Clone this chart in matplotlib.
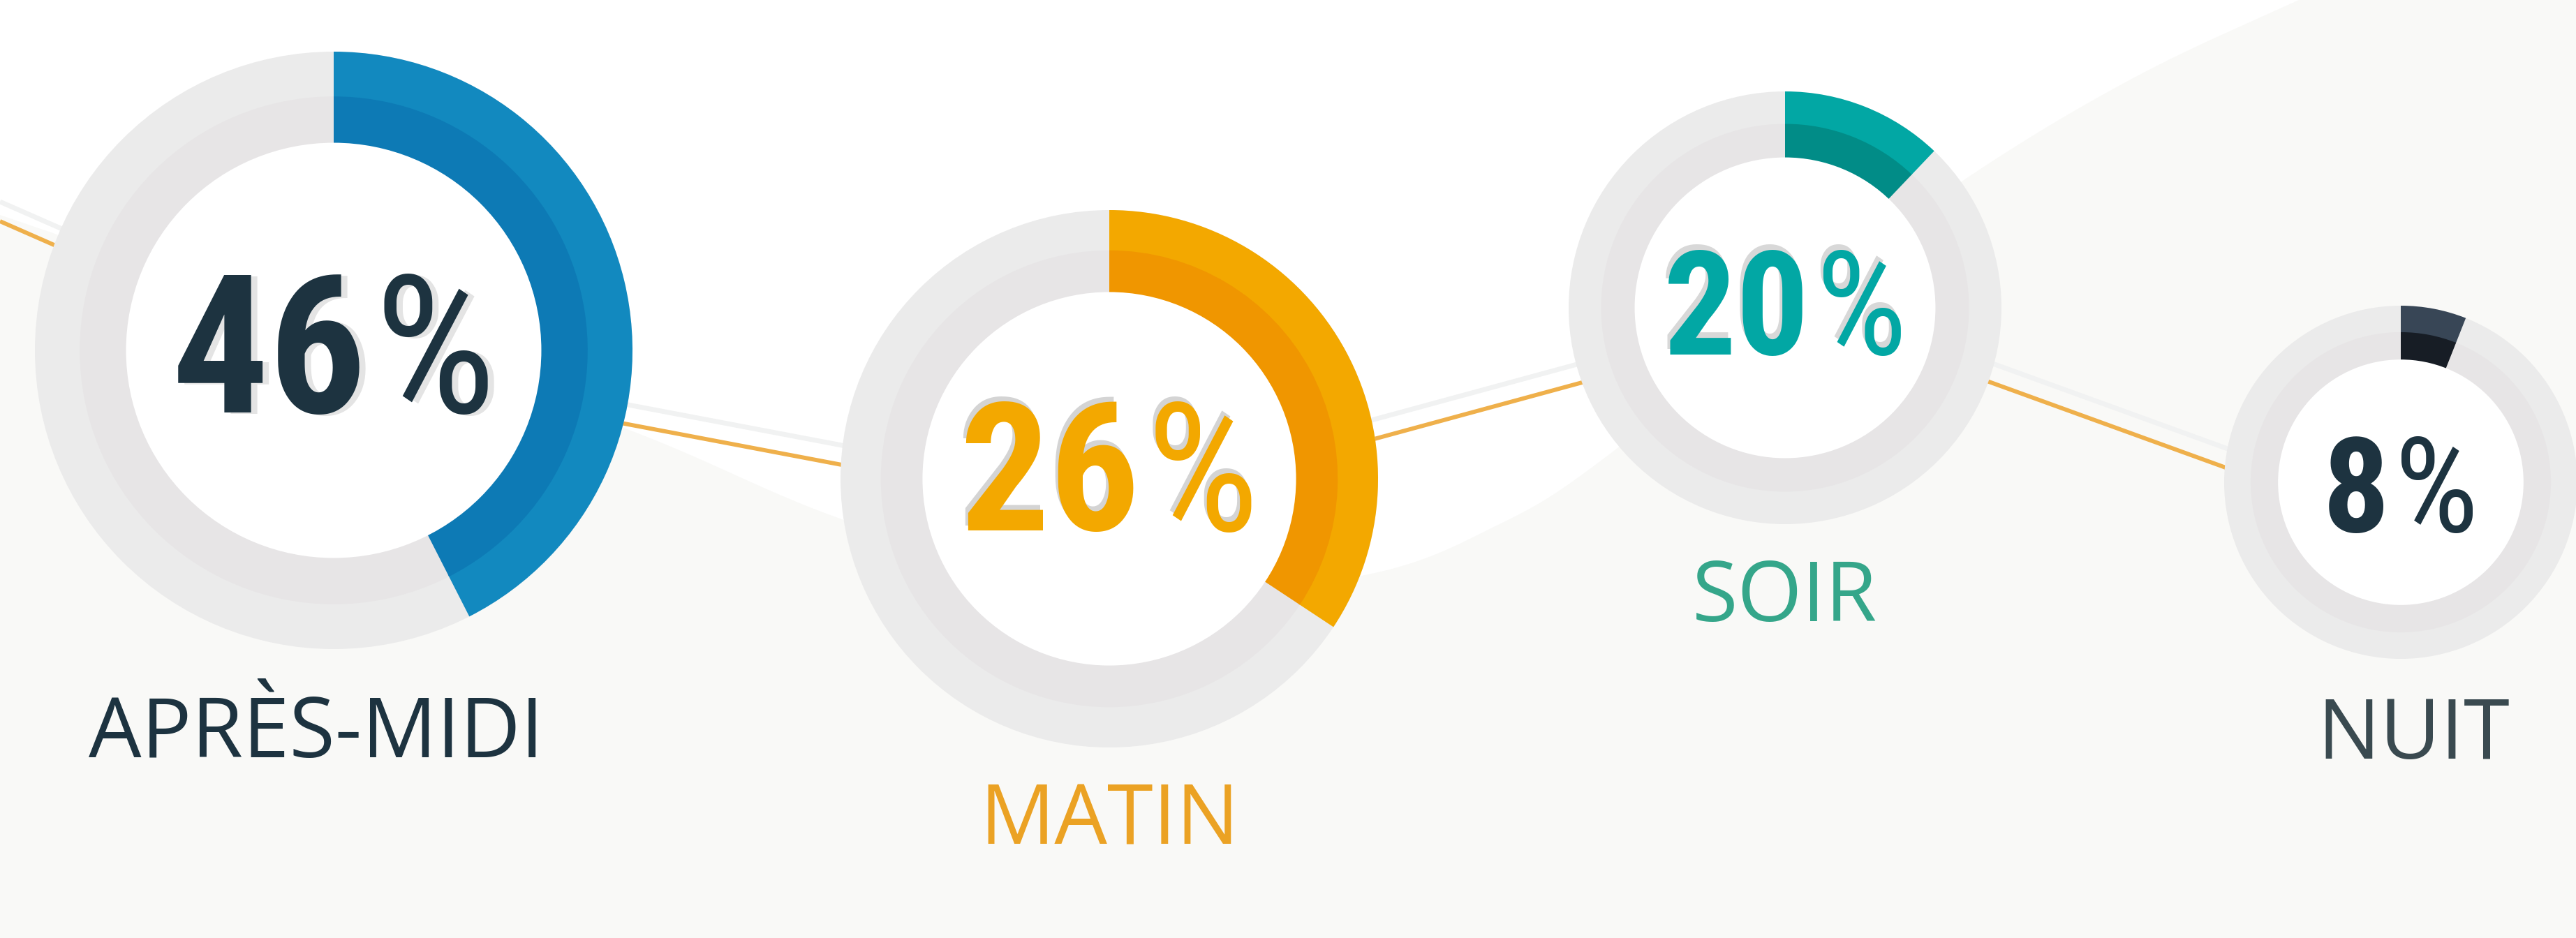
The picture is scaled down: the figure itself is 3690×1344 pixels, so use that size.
"""Time-of-day share infographic: four ring gauges over a soft wave background."""

import os

import matplotlib

matplotlib.use("Agg")
import matplotlib.pyplot as plt
import numpy as np
from matplotlib import font_manager as fm
from matplotlib.patches import Circle, Polygon, Wedge

# data
periods = ["APRÈS-MIDI", "MATIN", "SOIR", "NUIT"]
shares = [46, 26, 20, 8]
# how much of each ring is coloured in the original artwork (not drawn to scale there)
ring_fill = [42.5, 34.3, 12.1, 6.0]

# layout, in output pixels
W, H = 3690, 1344
cx = [478, 1589, 2557, 3439]
cy = [502, 686, 441, 691]
radius = [428, 385, 310, 253]

outer_colors = ["#1289bf", "#f3a800", "#02a7a4", "#384656"]
inner_colors = ["#0d7ab5", "#f09600", "#018c87", "#171d25"]
number_colors = ["#1d3340", "#f3a800", "#02a7a4", "#1d3340"]
label_colors = ["#1d3340", "#eba224", "#35a68a", "#3a4a50"]
shadow_colors = ["#e4e4e4", "#d4d4d4", "#d8d8d8", None]
shadow_offset = [(9, 3), (-4, -7), (-4, -7), (0, 0)]
number_size = [199, 184, 149, 137]
number_dy = [-11, -18, -8, 2]
label_dx = [-25, 0, 0, 18]
label_dy = [155, 138, 139, 143]

# background wave and connector line (decoration)
wave_pts = [(0, 308), (450, 462), (893, 613), (1203, 743), (1580, 860), (1950, 825),
            (2150, 750), (2300, 655), (2550, 450), (2813, 258), (3050, 115),
            (3293, 0), (3700, -180)]
path_pts = [(0, 317), (483, 529), (1575, 736), (2601, 457), (3439, 761)]

LABEL_FONT = ["Open Sans", "DejaVu Sans"]


def find_font(patterns):
    files = [f.fname for f in fm.fontManager.ttflist]
    for pat in patterns:
        for fn in files:
            if os.path.basename(fn).lower().startswith(pat.lower()):
                return fn
    return None


bold_file = find_font(["NotoSans-ExtraCondensedBold", "LiberationSansNarrow-Bold.",
                       "NotoSans-CondensedBold", "RobotoCondensed-Bold.",
                       "DejaVuSansCondensed-Bold."])
light_file = find_font(["NotoSans-ExtraCondensed.", "NotoSans-ExtraCondensedMedium",
                        "LiberationSansNarrow-Regular", "NotoSans-Condensed.",
                        "RobotoCondensed-Regular", "DejaVuSansCondensed."])


def num_font(path, size, weight):
    if path:
        return fm.FontProperties(fname=path, size=size)
    # nothing narrow installed: shrink the default face so the figure still fits
    return fm.FontProperties(family="DejaVu Sans", weight=weight, size=size * 0.72)


def catmull_rom(pts, n=40):
    p = np.asarray(pts, float)
    p = np.vstack([2 * p[0] - p[1], p, 2 * p[-1] - p[-2]])
    t = np.linspace(0, 1, n, endpoint=False)[:, None]
    out = []
    for i in range(1, len(p) - 2):
        p0, p1, p2, p3 = p[i - 1], p[i], p[i + 1], p[i + 2]
        out.append(0.5 * (2 * p1 + (p2 - p0) * t
                          + (2 * p0 - 5 * p1 + 4 * p2 - p3) * t ** 2
                          + (3 * p1 - p0 - 3 * p2 + p3) * t ** 3))
    out.append(p[-2][None])
    return np.vstack(out)


fig = plt.figure(figsize=(W / 100, H / 100), dpi=100)
ax = fig.add_axes([0, 0, 1, 1])
ax.set_xlim(0, W)
ax.set_ylim(H, 0)
ax.axis("off")
fig.patch.set_facecolor("white")

wave = catmull_rom(wave_pts)
wave = np.vstack([wave, [(3700, 1400), (-10, 1400)]])
ax.add_patch(Polygon(wave, closed=True, facecolor="#f9f9f7", edgecolor="none", zorder=0))

px, py = np.array(path_pts, float).T
ax.plot(px, py - 28, color="#f1f2f2", lw=5, solid_capstyle="butt", zorder=1)
ax.plot(px, py, color="#efb04b", lw=4.3, solid_capstyle="butt", zorder=1)

renderer = fig.canvas.get_renderer()

for i in range(len(periods)):
    c = (cx[i], cy[i])
    r = radius[i]
    ax.add_patch(Circle(c, r, facecolor="#ebebeb", lw=0, zorder=2))
    ax.add_patch(Circle(c, 0.85 * r, facecolor="#e7e5e6", lw=0, zorder=2.1))
    end = -90 + ring_fill[i] * 3.6
    ax.add_patch(Wedge(c, r, -90, end, width=0.155 * r, facecolor=outer_colors[i], lw=0, zorder=2.2))
    ax.add_patch(Wedge(c, 0.85 * r, -90, end, width=0.158 * r, facecolor=inner_colors[i], lw=0, zorder=2.3))
    ax.add_patch(Circle(c, 0.695 * r, facecolor="white", lw=0, zorder=2.4))

    # percentage: bold condensed digits + lighter percent sign
    size = number_size[i]
    fp_d = num_font(bold_file, size, "bold")
    fp_p = num_font(light_file, size, "normal")
    base = cy[i] + number_dy[i] + fp_d.get_size() / 2
    digits = ax.text(0, base, str(shares[i]), fontproperties=fp_d,
                     color=number_colors[i], ha="left", va="baseline", zorder=6)
    pct = ax.text(0, base, "%", fontproperties=fp_p,
                  color=number_colors[i], ha="left", va="baseline", zorder=6)
    w_d = digits.get_window_extent(renderer).width
    w_p = pct.get_window_extent(renderer).width
    gap = 0.05 * size
    x0 = cx[i] - (w_d + gap + w_p) / 2
    digits.set_x(x0)
    pct.set_x(x0 + w_d + gap)
    if shadow_colors[i]:
        sx, sy = shadow_offset[i]
        for t, fp in ((digits, fp_d), (pct, fp_p)):
            ax.text(t.get_position()[0] + sx, base + sy, t.get_text(), fontproperties=fp,
                    color=shadow_colors[i], ha="left", va="baseline", zorder=5)

    ax.text(cx[i] + label_dx[i], cy[i] + r + label_dy[i], periods[i], fontsize=86,
            family=LABEL_FONT, color=label_colors[i], ha="center", va="baseline", zorder=6)

fig.savefig("out.png", dpi=100, facecolor="white")
